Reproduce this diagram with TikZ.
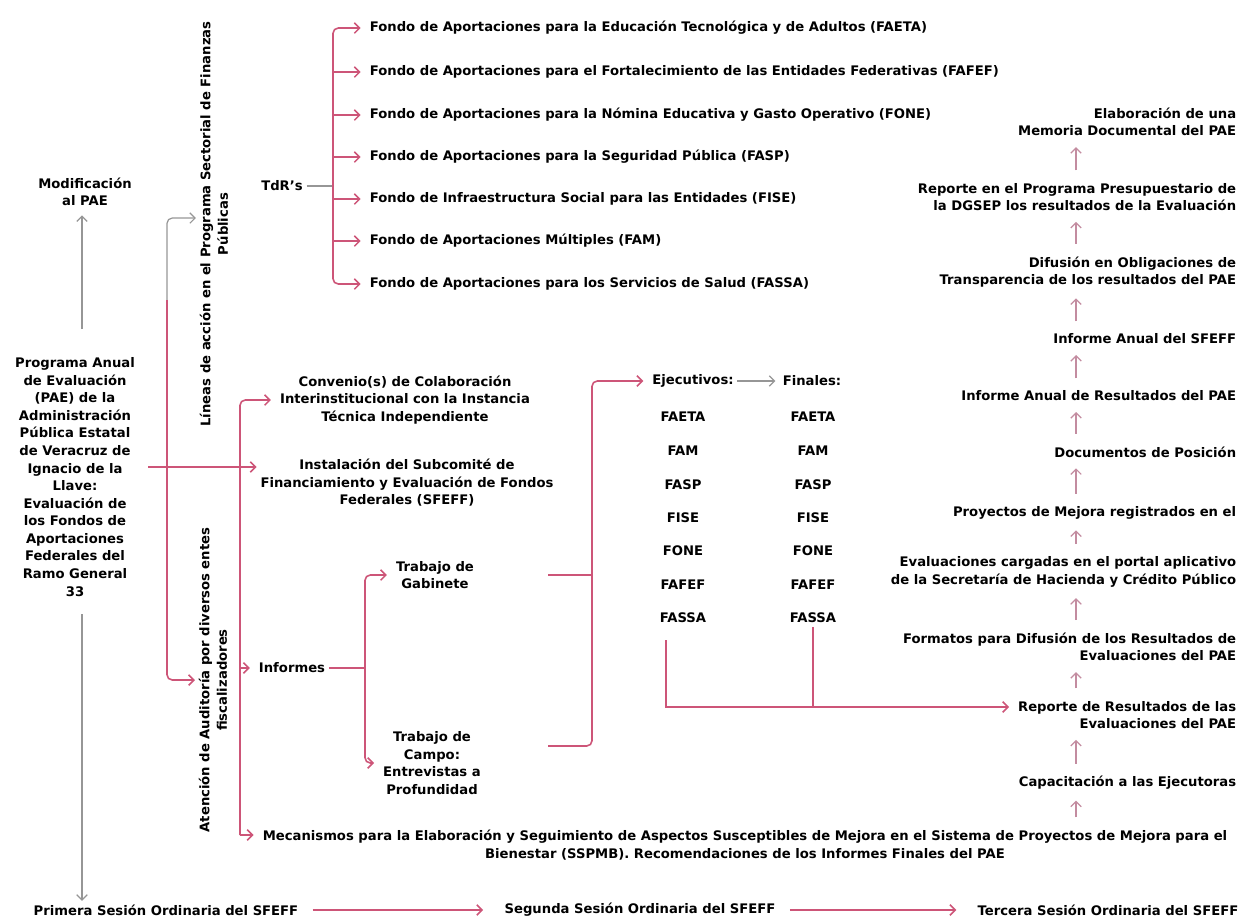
\documentclass[tikz,border=0pt]{standalone}
\usepackage{fontspec}
\setmainfont{DejaVu Sans}
\usepackage{tikz}
\usetikzlibrary{arrows.meta,calc,positioning}
\definecolor{rosa}{RGB}{205,85,120}
\definecolor{gris}{RGB}{150,150,150}
\definecolor{rosagris}{RGB}{195,140,160}
\tikzset{
    -{Straight Barb[length=3pt,width=6pt]},semithick,
    every node/.style={font=\fontsize{7.5}{10}\selectfont\bfseries, inner sep=2pt},
    txt/.style ={align=center},
    der/.style ={align=right, anchor=east},
    izq/.style ={anchor=west},
    vert/.style ={align=center, rotate=90},
    rosa/.style ={draw=rosa, line width=0.9pt},
    gris/.style ={draw=gris, line width=0.7pt},
    linea/.style ={-, draw=rosa, line width=0.9pt},
    rama/.style ={rosa, shorten >=3pt},
    sube/.style ={draw=rosagris, line width=0.7pt, shorten >=4pt, shorten <=5pt}
}

\begin{document}
\begin{tikzpicture}[x=0.02cm,y=-0.02cm]
  \useasboundingbox (0,0) rectangle (1258,920);

  % columna izquierda
  \node[txt] (mod) at (85,192) {Modificación\\al PAE};

  \node[txt] (pae) at (75,477) {Programa Anual\\de Evaluación\\(PAE) de la\\Administración\\Pública Estatal\\de Veracruz de\\Ignacio de la\\Llave:\\Evaluación de\\los Fondos de\\Aportaciones\\Federales del\\Ramo General\\33};

  \node[vert] (lin) at (214,224) {Líneas de acción en el Programa Sectorial de Finanzas\\Públicas};

  \node[vert] (ate) at (213,680) {Atención de Auditoría por diversos entes\\fiscalizadores};

  % terminos de referencia
  \node (tdr) at (282,186) {TdR’s};

  \node[izq] (f1) at (366,28) {Fondo de Aportaciones para la Educación Tecnológica y de Adultos (FAETA)};

  \node[izq] (f2) at (366,72) {Fondo de Aportaciones para el Fortalecimiento de las Entidades Federativas (FAFEF)};

  \node[izq] (f3) at (366,115) {Fondo de Aportaciones para la Nómina Educativa y Gasto Operativo (FONE)};

  \node[izq] (f4) at (366,157) {Fondo de Aportaciones para la Seguridad Pública (FASP)};

  \node[izq] (f5) at (366,199) {Fondo de Infraestructura Social para las Entidades (FISE)};

  \node[izq] (f6) at (366,241) {Fondo de Aportaciones Múltiples (FAM)};

  \node[izq] (f7) at (366,284) {Fondo de Aportaciones para los Servicios de Salud (FASSA)};

  % centro
  \node[txt] (con) at (405,400) {Convenio(s) de Colaboración\\Interinstitucional con la Instancia\\Técnica Independiente};

  \node[txt] (ins) at (407,483) {Instalación del Subcomité de\\Financiamiento y Evaluación de Fondos\\Federales (SFEFF)};

  \node (inf) at (292,668) {Informes};

  \node[txt] (gab) at (435,575) {Trabajo de\\Gabinete};

  \node[txt] (cam) at (432,763) {Trabajo de\\Campo:\\Entrevistas a\\Profundidad};

  \node (eje) at (693,381) {Ejecutivos:};

  \node (fin) at (812,381) {Finales:};

  \node (e1) at (683,417) {FAETA};
  \node (e2) at (683,451) {FAM};
  \node (e3) at (683,485) {FASP};
  \node (e4) at (683,518) {FISE};
  \node (e5) at (683,551) {FONE};
  \node (e6) at (683,585) {FAFEF};
  \node (e7) at (683,618) {FASSA};

  \node (n1) at (813,417) {FAETA};
  \node (n2) at (813,451) {FAM};
  \node (n3) at (813,485) {FASP};
  \node (n4) at (813,518) {FISE};
  \node (n5) at (813,551) {FONE};
  \node (n6) at (813,585) {FAFEF};
  \node (n7) at (813,618) {FASSA};

  \node[txt] (mec) at (745,845) {Mecanismos para la Elaboración y Seguimiento de Aspectos Susceptibles de Mejora en el Sistema de Proyectos de Mejora para el\\Bienestar (SSPMB). Recomendaciones de los Informes Finales del PAE};

  % columna derecha
  \node[der] (r1) at (1240,122) {Elaboración de una\\Memoria Documental del PAE};

  \node[der] (r2) at (1240,197) {Reporte en el Programa Presupuestario de\\la DGSEP los resultados de la Evaluación};

  \node[der] (r3) at (1240,272) {Difusión en Obligaciones de\\Transparencia de los resultados del PAE};

  \node[der] (r4) at (1240,339) {Informe Anual del SFEFF};

  \node[der] (r5) at (1240,396) {Informe Anual de Resultados del PAE};

  \node[der] (r6) at (1240,452) {Documentos de Posición};

  \node[der] (r7) at (1240,513) {Proyectos de Mejora registrados en el};

  \node[der] (r8) at (1240,572) {Evaluaciones cargadas en el portal aplicativo\\de la Secretaría de Hacienda y Crédito Público};

  \node[der] (r9) at (1240,647) {Formatos para Difusión de los Resultados de\\Evaluaciones del PAE};

  \node[der] (r10) at (1240,715) {Reporte de Resultados de las\\Evaluaciones del PAE};

  \node[der] (r11) at (1240,783) {Capacitación a las Ejecutoras};

  % sesiones
  \node (s1) at (166,910) {Primera Sesión Ordinaria del SFEFF};

  \node (s2) at (640,910) {Segunda Sesión Ordinaria del SFEFF};

  \node (s3) at (1108,910) {Tercera Sesión Ordinaria del SFEFF};

  % conectores
  \coordinate (vx) at (82,0);
  \coordinate (hub) at (148,467);
  \coordinate (ba1) at (167,218);
  \coordinate (ba2) at (167,300);
  \coordinate (bb1) at (240,398);
  \coordinate (bb2) at (240,835);
  \coordinate (tb) at (333,186);
  \coordinate (ib) at (365,668);
  \coordinate (go) at (548,575);
  \coordinate (co) at (548,746);
  \coordinate (ej) at (592,381);
  \coordinate (el) at (666,640);
  \coordinate (nl) at (813,707);
  \coordinate (ax) at (1076,0);

  \draw[gris, shorten <=14pt, shorten >=3pt] (pae.north -| vx) -- (mod.south -| vx);
  \draw[gris, shorten <=8pt] (pae.south -| vx) -- (s1.north -| vx);

  \draw[gris, rounded corners=3pt] (ba2) -- (ba1) -- (ba1 -| lin.north);
  \draw[rosa, rounded corners=3pt] (ba2) |- (ate.north);
  \draw[rosa] (hub) -- (hub -| ins.west);

  \draw[rama, rounded corners=3pt] (bb2) |- (con.west);
  \draw[rama] (bb2 |- inf.west) -- (inf.west);
  \draw[rama] (bb2) -- (bb2 -| mec.west);

  \draw[gris,-] (tdr) -- (tb);
  \draw[rama, rounded corners=3pt] (tb) |- (f1.west);
  \draw[rama] (tb) |- (f2.west);
  \draw[rama] (tb) |- (f3.west);
  \draw[rama] (tb) |- (f4.west);
  \draw[rama] (tb) |- (f5.west);
  \draw[rama] (tb) |- (f6.west);
  \draw[rama, rounded corners=3pt] (tb) |- (f7.west);

  \draw[linea] (inf.east) -- (ib);
  \draw[rama, rounded corners=3pt] (ib) |- (gab.west);
  \draw[rama, rounded corners=3pt] (ib) |- (cam.west);

  \draw[linea] (go) -- (go -| ej);
  \draw[rama, rounded corners=3pt] (co) -| (ej) -- (eje.west);
  \draw[gris, shorten >=2pt] (eje) -- (fin);

  \draw[rama] (el) |- ($(r10.west)+(0,-8)$);
  \draw[linea] (n7.south) -- (nl);

  \draw[sube] (r2.north -| ax) -- (r1.south -| ax);
  \draw[sube] (r3.north -| ax) -- (r2.south -| ax);
  \draw[sube] (r4.north -| ax) -- (r3.south -| ax);
  \draw[sube] (r5.north -| ax) -- (r4.south -| ax);
  \draw[sube] (r6.north -| ax) -- (r5.south -| ax);
  \draw[sube] (r7.north -| ax) -- (r6.south -| ax);
  \draw[sube] (r8.north -| ax) -- (r7.south -| ax);
  \draw[sube] (r9.north -| ax) -- (r8.south -| ax);
  \draw[sube] (r10.north -| ax) -- (r9.south -| ax);
  \draw[sube] (r11.north -| ax) -- (r10.south -| ax);
  \draw[sube] (mec.north -| ax) -- (r11.south -| ax);

  \draw[rosa, shorten <=6pt, shorten >=10pt] (s1) -- (s2);
  \draw[rosa, shorten <=6pt, shorten >=10pt] (s2) -- (s3);
\end{tikzpicture}
\end{document}
